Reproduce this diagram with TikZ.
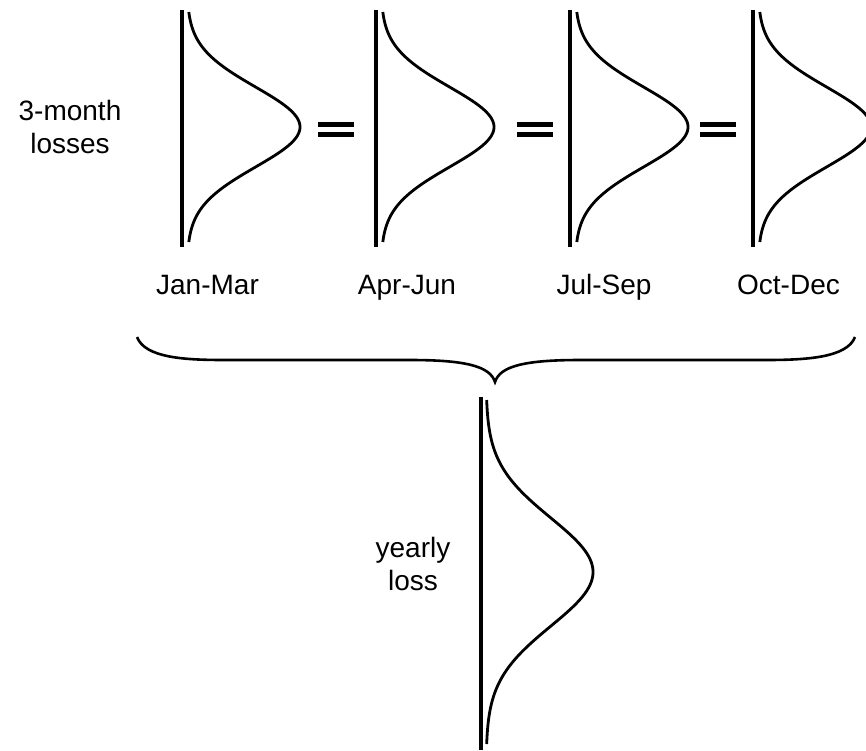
\documentclass[tikz,border=0pt]{standalone}
\usepackage{fontspec}
\setmainfont{Liberation Sans}
\begin{document}
\begin{tikzpicture}[x=1pt,y=-1pt,
  axisline/.style={line width=3.2pt},
  curveline/.style={line width=2.8pt},
  brace/.style={line width=2.6pt},
  lbl/.style={inner sep=0pt,font=\fontsize{28}{33}\selectfont,align=center},
  eqbar/.style={fill=black}]
\useasboundingbox (0,0) rectangle (866,750);
\clip (0,0) rectangle (866,750);
% quarterly distributions
\foreach \lx in {182,376,570,753}{
  \draw[axisline] (\lx,10) -- (\lx,247);
  \draw[curveline] plot[domain=-115:115,samples=120,smooth]
    ({\lx+5+113*exp(-0.5*(\x/40)*(\x/40))},{127+\x});
}
% equals signs
\foreach \ex in {318,517,700}{
  \fill[eqbar] (\ex,122) rectangle (\ex+36,127);
  \fill[eqbar] (\ex,131.5) rectangle (\ex+36,136.5);
}
% labels
\node[lbl] (tm) at (70,127) {3-month\\losses};
\node[lbl,anchor=base] (q1) at (207.5,294) {Jan-Mar};
\node[lbl,anchor=base] (q2) at (407,294) {Apr-Jun};
\node[lbl,anchor=base] (q3) at (604,294) {Jul-Sep};
\node[lbl,anchor=base] (q4) at (788.5,294) {Oct-Dec};
% brace
\coordinate (bl) at (137,337);
\coordinate (br) at (855,337);
\coordinate (bt) at (495,382);
\draw[brace] (bl) .. controls (145,358) and (185,360) .. (225,360)
  -- (410,360) .. controls (465,360) and (490,366) .. (bt)
  .. controls (500,366) and (525,360) .. (580,360)
  -- (765,360) .. controls (805,360) and (847,358) .. (br);
% yearly distribution
\draw[axisline] (481,397) -- (481,750);
\draw[curveline] plot[domain=-172:172,samples=160,smooth]
  ({486+107*exp(-0.5*(\x/54)*(\x/54))},{572+\x});
\node[lbl] (yl) at (413,564) {yearly\\loss};
\end{tikzpicture}
\end{document}
